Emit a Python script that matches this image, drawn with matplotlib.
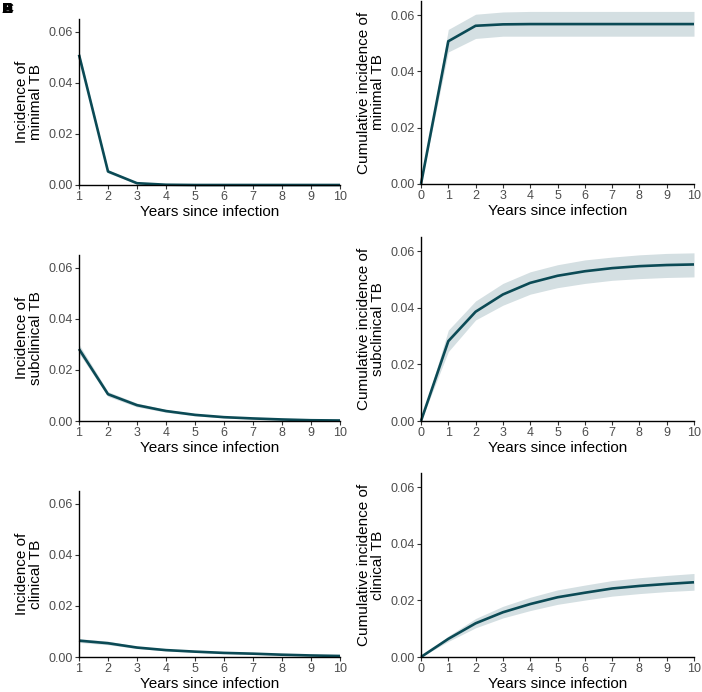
import numpy as np
import matplotlib
matplotlib.use("Agg")
import matplotlib.pyplot as plt

plt.rcParams['font.family'] = ['Liberation Sans', 'DejaVu Sans']

# ---------------- data ----------------
years_inc = [1, 2, 3, 4, 5, 6, 7, 8, 9, 10]
years_cum = [0, 1, 2, 3, 4, 5, 6, 7, 8, 9, 10]

# incidence per year (median, low, high)
inc_minimal = [0.0510, 0.0053, 0.0007, 0.0001, 0.0, 0.0, 0.0, 0.0, 0.0, 0.0]
inc_minimal_lo = [0.0498, 0.0047, 0.0004, 0.0, 0.0, 0.0, 0.0, 0.0, 0.0, 0.0]
inc_minimal_hi = [0.0522, 0.0060, 0.0010, 0.0002, 0.0001, 0.0, 0.0, 0.0, 0.0, 0.0]

inc_subclin = [0.0282, 0.0105, 0.0062, 0.0039, 0.0024, 0.0015, 0.0010, 0.0006, 0.0003, 0.0002]
inc_subclin_lo = [0.0265, 0.0096, 0.0055, 0.0034, 0.0020, 0.0012, 0.0007, 0.0004, 0.0002, 0.0001]
inc_subclin_hi = [0.0300, 0.0115, 0.0070, 0.0045, 0.0029, 0.0019, 0.0013, 0.0008, 0.0005, 0.0003]

inc_clin = [0.0064, 0.0054, 0.0037, 0.0027, 0.0021, 0.0016, 0.0013, 0.0009, 0.0006, 0.0004]
inc_clin_lo = [0.0057, 0.0048, 0.0033, 0.0024, 0.0018, 0.0014, 0.0011, 0.0007, 0.0005, 0.0003]
inc_clin_hi = [0.0072, 0.0062, 0.0042, 0.0031, 0.0025, 0.0019, 0.0016, 0.0012, 0.0008, 0.0006]

# cumulative incidence (median, low, high)
cum_minimal = [0.0, 0.0507, 0.0562, 0.0567, 0.0568, 0.0568, 0.0568, 0.0568, 0.0568, 0.0568, 0.0568]
cum_minimal_lo = [0.0, 0.0469, 0.0517, 0.0525, 0.0525, 0.0525, 0.0525, 0.0525, 0.0525, 0.0525, 0.0525]
cum_minimal_hi = [0.0, 0.0549, 0.0603, 0.0611, 0.0613, 0.0613, 0.0613, 0.0613, 0.0613, 0.0613, 0.0613]

cum_subclin = [0.0, 0.0282, 0.0386, 0.0447, 0.0488, 0.0513, 0.0529, 0.0540, 0.0547, 0.0551, 0.0553]
cum_subclin_lo = [0.0, 0.0245, 0.0357, 0.0409, 0.0448, 0.0471, 0.0486, 0.0497, 0.0503, 0.0507, 0.0509]
cum_subclin_hi = [0.0, 0.0321, 0.0424, 0.0486, 0.0527, 0.0552, 0.0569, 0.0579, 0.0587, 0.0592, 0.0594]

cum_clin = [0.0, 0.0064, 0.0119, 0.0158, 0.0187, 0.0211, 0.0227, 0.0242, 0.0251, 0.0258, 0.0264]
cum_clin_lo = [0.0, 0.0055, 0.0103, 0.0138, 0.0164, 0.0186, 0.0201, 0.0215, 0.0224, 0.0231, 0.0236]
cum_clin_hi = [0.0, 0.0074, 0.0136, 0.0179, 0.0211, 0.0237, 0.0254, 0.0270, 0.0280, 0.0288, 0.0295]

inc_labels = ["Incidence of\nminimal TB", "Incidence of\nsubclinical TB", "Incidence of\nclinical TB"]
cum_labels = ["Cumulative incidence of\nminimal TB", "Cumulative incidence of\nsubclinical TB",
              "Cumulative incidence of\nclinical TB"]
panel_letters = ["A", "B", "C", "D", "E", "F"]

line_col = '#0b4a55'
band_col = '#d4dfe2'

W, H = 702, 692
fig = plt.figure(figsize=(W / 100, H / 100), dpi=100)


def add_ax(x0, y0, x1, y1):
    # pixel box (top-left origin) -> figure fraction
    return fig.add_axes([x0 / W, 1 - y1 / H, (x1 - x0) / W, (y1 - y0) / H])


def style(ax, xs, ylabel):
    ax.set_xlim(xs[0], xs[-1])
    ax.set_ylim(0, 0.065)
    ax.set_xticks(xs)
    ax.set_yticks([0, 0.02, 0.04, 0.06])
    ax.set_yticklabels(["0.00", "0.02", "0.04", "0.06"])
    for s in ['top', 'right']:
        ax.spines[s].set_visible(False)
    for s in ['left', 'bottom']:
        ax.spines[s].set_linewidth(1.0)
        ax.spines[s].set_color('black')
    ax.tick_params(length=3, width=0.8, color='#333333', labelsize=9, labelcolor='#4d4d4d', pad=1.5)
    ax.set_xlabel("Years since infection", fontsize=11, labelpad=1)
    ax.set_ylabel(ylabel, fontsize=11, labelpad=4, linespacing=0.95)


inc_sets = [(inc_minimal, inc_minimal_lo, inc_minimal_hi),
            (inc_subclin, inc_subclin_lo, inc_subclin_hi),
            (inc_clin, inc_clin_lo, inc_clin_hi)]
cum_sets = [(cum_minimal, cum_minimal_lo, cum_minimal_hi),
            (cum_subclin, cum_subclin_lo, cum_subclin_hi),
            (cum_clin, cum_clin_lo, cum_clin_hi)]

left_rows = [(19, 185), (255, 421), (491, 657)]
right_rows = [(1, 184), (237, 421), (473, 657)]

for i in range(3):
    # left column: yearly incidence
    ax = add_ax(79, left_rows[i][0], 340, left_rows[i][1])
    med, lo, hi = inc_sets[i]
    ax.fill_between(years_inc, lo, hi, color=band_col, lw=0)
    ax.plot(years_inc, med, color=line_col, lw=1.9, solid_capstyle='butt', clip_on=False)
    style(ax, years_inc, inc_labels[i])

    # right column: cumulative incidence
    ax = add_ax(421, right_rows[i][0], 694, right_rows[i][1])
    med, lo, hi = cum_sets[i]
    ax.fill_between(years_cum, lo, hi, color=band_col, lw=0)
    ax.plot(years_cum, med, color=line_col, lw=1.9, solid_capstyle='butt', clip_on=False)
    style(ax, years_cum, cum_labels[i])

# panel tags all stacked in the corner, as in the source figure
for letter in panel_letters:
    fig.text(2 / W, 1 - 2 / H, letter, fontsize=11, fontweight='bold', ha='left', va='top')

fig.savefig("out.png", dpi=100)
